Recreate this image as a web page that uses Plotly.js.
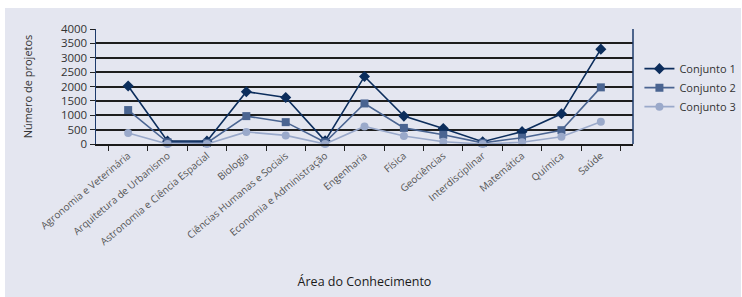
<!DOCTYPE html>
<html>
<head>
<meta charset="utf-8">
<script src="https://cdn.plot.ly/plotly-3.0.1.min.js"></script>
<style>
html,body{margin:0;padding:0;background:#fff;width:742px;height:297px;overflow:hidden;}
#chart{position:absolute;left:5px;top:8px;width:736px;height:289px;}
</style>
</head>
<body>
<div id="chart"></div>
<script>
const categories = ["Agronomia e Veterinária","Arquitetura de Urbanismo","Astronomia e Ciência Espacial","Biologia","Ciências Humanas e Sociais","Economia e Administração","Engenharia","Física","Geociências","Interdisciplinar","Matemática","Química","Saúde"];
const conjunto1 = [2020, 100, 100, 1820, 1620, 110, 2350, 970, 540, 80, 430, 1050, 3300];
const conjunto2 = [1180, 60, 40, 970, 760, 60, 1410, 560, 320, 40, 220, 480, 1970];
const conjunto3 = [380, 0, 0, 420, 300, 0, 610, 280, 80, 0, 60, 250, 770];
const seriesNames = ["Conjunto 1","Conjunto 2","Conjunto 3"];
const yTicks = [0,500,1000,1500,2000,2500,3000,3500,4000];

const colors = ["#0c2d5c","#4a6491","#9aa9ca"];
const symbols = ["diamond","square","circle"];
const sizes = [8.5,8,8];
const data = [conjunto1, conjunto2, conjunto3].map((v,i)=>({
  type:'scatter', mode:'lines+markers', name:seriesNames[i],
  x:categories, y:v,
  line:{color:colors[i], width:1.6},
  marker:{symbol:symbols[i], size:sizes[i], color:colors[i]},
  cliponaxis:false
}));

const layout = {
  width:736, height:289,
  margin:{l:91, r:108, t:20.7, b:153},
  paper_bgcolor:'#e4e6f0', plot_bgcolor:'#e4e6f0',
  font:{family:'"Open Sans", "Noto Sans", sans-serif', color:'#333'},
  showlegend:true,
  legend:{xref:'container', x:0.862, xanchor:'left', y:0.49, yanchor:'middle', bgcolor:'rgba(0,0,0,0)',
    font:{size:11, color:'#333'}, tracegroupgap:0},
  shapes:[{type:'line', xref:'paper', yref:'paper', x0:1, x1:1, y0:0, y1:1,
    line:{color:'#1d3a6b', width:1.5}}],
  xaxis:{
    type:'category', tickson:'boundaries', ticks:'outside', ticklen:5, tickcolor:'#222',
    tickangle:-40, tickfont:{size:10, color:'#555'},
    showline:true, linecolor:'#1a1a1a', linewidth:2, showgrid:false,
    title:{text:'Área do Conhecimento', font:{size:12.5, color:'#1a1a1a', weight:500}, standoff:30},
    automargin:false
  },
  yaxis:{
    range:[0,4000], tickvals:yTicks, ticktext:yTicks.map(String),
    ticks:'outside', ticklen:5, tickcolor:'#222',
    tickfont:{size:11.5, color:'#333'},
    showgrid:true, gridcolor:'#1e1e1e', gridwidth:2,
    zeroline:false,
    showline:true, linecolor:'#1d3a6b', linewidth:1.5,
    title:{text:'Número de projetos', font:{size:11, color:'#333'}, standoff:26},
    automargin:false
  }
};
Plotly.newPlot('chart', data, layout, {displayModeBar:false, staticPlot:true});
</script>
</body>
</html>
